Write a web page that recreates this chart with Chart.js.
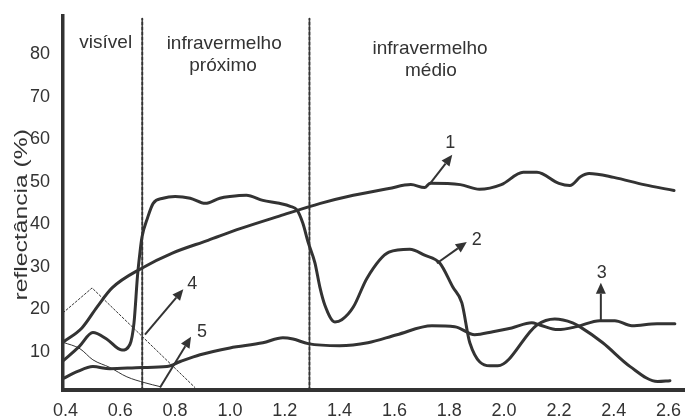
<!DOCTYPE html>
<html>
<head>
<meta charset="utf-8">
<script src="https://cdn.jsdelivr.net/npm/chart.js@4.4.1/dist/chart.umd.min.js"></script>
<style>
  html, body { margin: 0; padding: 0; background: #fff; }
  canvas { display: block; }
</style>
</head>
<body>
<canvas id="grafico" width="685" height="416"></canvas>
<script>
// comprimento de onda (um) e reflectancia (%) de cada curva
const wl1 = [0.392, 0.46, 0.515, 0.57, 0.68, 0.79, 0.92, 1.04, 1.18, 1.33, 1.45, 1.58, 1.66, 1.71, 1.73, 1.84, 1.91, 1.99, 2.07, 2.12, 2.20, 2.24, 2.28, 2.31, 2.40, 2.51, 2.62];
const r1  = [12.3, 15.6, 20.5, 25.0, 29.7, 33.2, 36.2, 39.0, 41.9, 44.9, 46.8, 48.4, 49.3, 48.6, 49.6, 49.3, 48.2, 49.3, 52.2, 52.2, 49.6, 49.1, 51.2, 51.9, 51.0, 49.3, 47.9];

const wl2 = [0.392, 0.45, 0.50, 0.55, 0.606, 0.635, 0.650, 0.663, 0.672, 0.679, 0.70, 0.72, 0.756, 0.80, 0.855, 0.91, 0.963, 1.00, 1.06, 1.12, 1.18, 1.22, 1.245, 1.266, 1.285, 1.31, 1.328, 1.346, 1.383, 1.408, 1.45, 1.50, 1.58, 1.656, 1.71, 1.766, 1.813, 1.846, 1.875, 1.948, 1.977, 2.12, 2.185, 2.25, 2.276, 2.36, 2.46, 2.56, 2.605];
const r2  = [7.9, 11.2, 14.5, 13.0, 10.4, 11.7, 16.8, 28.0, 33.5, 36.9, 41.6, 44.9, 46.1, 46.5, 46.1, 44.9, 46.1, 46.5, 46.8, 45.6, 44.9, 44.2, 43.3, 40.2, 35.8, 30.9, 25.2, 21.0, 17.0, 17.5, 20.5, 27.3, 33.4, 34.1, 32.7, 30.8, 25.2, 21.5, 12.1, 6.7, 6.7, 16.3, 17.7, 16.8, 15.9, 12.1, 6.5, 3.0, 3.2];

const wl3 = [0.392, 0.442, 0.50, 0.562, 0.679, 0.77, 0.819, 0.891, 1.00, 1.12, 1.193, 1.23, 1.285, 1.40, 1.503, 1.609, 1.737, 1.82, 1.893, 1.959, 2.028, 2.101, 2.13, 2.196, 2.265, 2.349, 2.404, 2.466, 2.558, 2.623];
const r3  = [3.7, 5.3, 6.5, 6.0, 6.3, 6.5, 7.7, 9.3, 10.9, 12.1, 13.3, 13.0, 11.9, 11.4, 12.1, 14.0, 16.1, 15.9, 14.0, 14.7, 15.6, 16.8, 16.3, 15.2, 15.9, 17.3, 17.3, 16.1, 16.6, 16.6];

const wl4 = [0.392, 0.497, 0.872];
const r4  = [19.2, 25.0, 1.6];

const wl5 = [0.392, 0.453, 0.50, 0.562, 0.624, 0.69, 0.745];
const r5  = [12.2, 10.7, 8.1, 6.3, 4.1, 2.7, 1.8];

// limites das regioes do espectro
const limites = [0.68, 1.29];

// setas de identificacao das curvas: origem e ponta (x, y)
const curvas   = ['1', '2', '3', '4', '5'];
const setaDeX  = [1.727, 1.755, 2.353, 0.690, 0.745];
const setaDeY  = [49.3, 30.8, 17.3, 14.0, 1.6];
const setaAteX = [1.811, 1.864, 2.353, 0.830, 0.858];
const setaAteY = [56.3, 35.8, 26.2, 24.7, 13.5];

const xTicks = [0.4, 0.6, 0.8, 1.0, 1.2, 1.4, 1.6, 1.8, 2.0, 2.2, 2.4, 2.6];
const yTicks = [10, 20, 30, 40, 50, 60, 70, 80];

const COR = '#333';
const FONTE = '"Liberation Sans", Arial, Helvetica, sans-serif';

function pontos(xs, ys) {
    return xs.map((v, i) => ({ x: v, y: ys[i] }));
}

function curva(xs, ys, extra) {
    return Object.assign({
        data: pontos(xs, ys),
        borderColor: COR,
        borderWidth: 3,
        pointRadius: 0,
        fill: false,
        cubicInterpolationMode: 'monotone',
        borderJoinStyle: 'round',
        borderCapStyle: 'round'
    }, extra || {});
}

const conjuntos = [
    curva(wl1, r1),
    curva(wl2, r2),
    curva(wl3, r3),
    curva(wl4, r4, { borderWidth: 1, borderDash: [2, 2], cubicInterpolationMode: 'default', tension: 0 }),
    curva(wl5, r5, { borderWidth: 1 })
];
limites.forEach(function(l) {
    conjuntos.push(curva([l, l], [1, 88.3], { borderWidth: 2, borderDash: [3, 2], cubicInterpolationMode: 'default', tension: 0 }));
});

// deslocamento dos numeros em relacao a ponta da seta (px)
const deslocNum = [[-2, -12], [10, -2], [1, -10], [9, -5], [11, -5]];

const anotacoes = {
    id: 'anotacoes',
    afterDatasetsDraw(chart) {
        const ctx = chart.ctx;
        const x = chart.scales.x, y = chart.scales.y;
        ctx.save();
        ctx.strokeStyle = COR;
        ctx.fillStyle = COR;
        ctx.lineWidth = 2;
        ctx.font = '18px ' + FONTE;
        ctx.textAlign = 'center';
        ctx.textBaseline = 'middle';
        curvas.forEach(function(nome, i) {
            const x0 = x.getPixelForValue(setaDeX[i]), y0 = y.getPixelForValue(setaDeY[i]);
            const x1 = x.getPixelForValue(setaAteX[i]), y1 = y.getPixelForValue(setaAteY[i]);
            const a = Math.atan2(y1 - y0, x1 - x0);
            const comp = 11, larg = 5;
            const bx = x1 - comp * Math.cos(a), by = y1 - comp * Math.sin(a);
            ctx.beginPath();
            ctx.moveTo(x0, y0);
            ctx.lineTo(bx, by);
            ctx.stroke();
            ctx.beginPath();
            ctx.moveTo(x1, y1);
            ctx.lineTo(bx + larg * Math.sin(a), by - larg * Math.cos(a));
            ctx.lineTo(bx - larg * Math.sin(a), by + larg * Math.cos(a));
            ctx.closePath();
            ctx.fill();
            ctx.fillText(nome, x1 + deslocNum[i][0], y1 + deslocNum[i][1]);
        });

        ctx.font = '19px ' + FONTE;
        ctx.fillText('visível', x.getPixelForValue(0.547), y.getPixelForValue(82.6));
        ctx.fillText('infravermelho', x.getPixelForValue(0.979), y.getPixelForValue(82.4));
        ctx.fillText('próximo', x.getPixelForValue(0.975), y.getPixelForValue(77.2));
        ctx.fillText('infravermelho', x.getPixelForValue(1.730), y.getPixelForValue(81.2));
        ctx.fillText('médio', x.getPixelForValue(1.733), y.getPixelForValue(76.0));

        // titulo do eixo y, um pouco alongado como no original
        ctx.save();
        ctx.translate(22, y.getPixelForValue(42.2));
        ctx.rotate(-Math.PI / 2);
        ctx.scale(1.3, 1);
        ctx.font = '19px ' + FONTE;
        ctx.fillText('reflectância (%)', 0, 0);
        ctx.restore();
        ctx.restore();
    }
};

document.addEventListener('DOMContentLoaded', function() {
    const ctx = document.getElementById('grafico');
    new Chart(ctx, {
        type: 'line',
        data: { datasets: conjuntos },
        options: {
            responsive: false,
            animation: false,
            devicePixelRatio: 1,
            layout: { padding: { top: 15, right: 0, left: 0, bottom: 0 } },
            plugins: {
                legend: { display: false },
                tooltip: { enabled: false }
            },
            scales: {
                x: {
                    type: 'linear',
                    min: 0.391,
                    max: 2.66,
                    grid: { display: false },
                    border: { display: true, color: COR, width: 4 },
                    afterBuildTicks: function(s) { s.ticks = xTicks.map(v => ({ value: v })); },
                    afterFit: function(s) { s.height = 26; },
                    ticks: {
                        color: COR,
                        font: { family: FONTE, size: 18 },
                        padding: 2,
                        maxRotation: 0,
                        autoSkip: false,
                        callback: v => v.toFixed(1).replace('.', ',')
                    }
                },
                y: {
                    min: 1,
                    max: 89,
                    grid: { display: false },
                    border: { display: true, color: COR, width: 3.5 },
                    afterBuildTicks: function(s) { s.ticks = yTicks.map(v => ({ value: v })); },
                    afterFit: function(s) { s.width = 63; },
                    ticks: {
                        color: COR,
                        font: { family: FONTE, size: 18 },
                        padding: 5
                    }
                }
            }
        },
        plugins: [anotacoes]
    });
});
</script>
</body>
</html>
